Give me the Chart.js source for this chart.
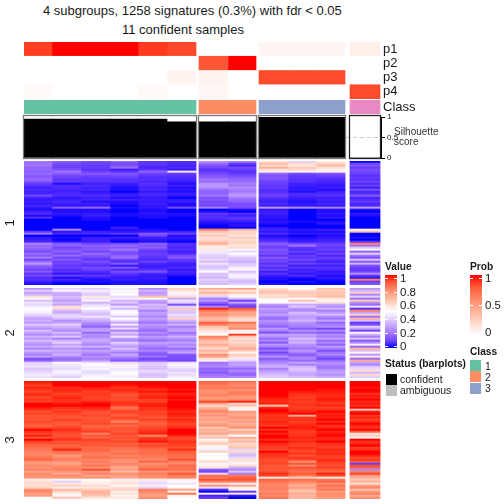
<!DOCTYPE html>
<html>
<head>
<meta charset="utf-8">
<script src="https://cdn.jsdelivr.net/npm/chart.js@4/dist/chart.umd.min.js"></script>
<style>
  html, body { margin: 0; padding: 0; background: #fff; width: 504px; height: 504px; overflow: hidden; }
  canvas { position: absolute; left: 0; }
  .t { position: absolute; font-family: "Liberation Sans", Arial, sans-serif; color: #1a1a1a; white-space: nowrap; line-height: 1; }
  .b { font-weight: bold; font-size: 10.2px; }
  .s { font-size: 10.5px; color: #222; }
  .box { position: absolute; width: 11px; height: 11px; }
</style>
</head>
<body>
<div class="t" style="left:43px;top:4px;font-size:13px">4 subgroups, 1258 signatures (0.3%) with fdr &lt; 0.05</div>
<div class="t" style="left:122px;top:23px;font-size:13px">11 confident samples</div>
<canvas id="annoChart"></canvas>
<canvas id="classChart"></canvas>
<canvas id="silChart"></canvas>
<canvas id="band1Chart"></canvas>
<canvas id="band2Chart"></canvas>
<canvas id="band3Chart"></canvas>
<canvas id="valueBar"></canvas>
<canvas id="probBar"></canvas>
<div class="t" style="left:394px;top:127px;font-size:10px;color:#333">Silhouette</div>
<div class="t" style="left:394px;top:137px;font-size:10px;color:#333">score</div>
<div class="t b" style="left:385px;top:262px">Value</div>
<div class="t b" style="left:470px;top:262px">Prob</div>
<div class="t b" style="left:470px;top:347px">Class</div>
<div class="t b" style="left:385px;top:359px">Status (barplots)</div>
<div class="box" style="left:470px;top:360px;background:#66C2A5"></div>
<div class="box" style="left:470px;top:371px;background:#FC8D62"></div>
<div class="box" style="left:470px;top:383px;background:#8DA0CB"></div>
<div class="t s" style="left:485px;top:361px">1</div>
<div class="t s" style="left:485px;top:372px">2</div>
<div class="t s" style="left:485px;top:383px">3</div>
<div class="box" style="left:386px;top:374px;background:#000"></div>
<div class="box" style="left:386px;top:385px;background:#bebebe"></div>
<div class="t s" style="left:400px;top:374px">confident</div>
<div class="t s" style="left:400px;top:385px">ambiguous</div>

<script>
// annotation rows, one value per sample (0-100)
const p1 = [90,100,100,100,91,87, 0,0, 5,5,5, 8];
const p2 = [0,0,0,0,0,0, 82,100, 0,0,0, 0];
const p3 = [0,0,0,0,0,6, 6,0, 86,86,86, 0];
const p4 = [3,0,0,0,3,0, 4,0, 0,0,0, 86];
const annoLabels = ["p1", "p2", "p3", "p4"];
const classes = [0,0,0,0,0,0, 1,1, 2,2,2, 3];
const classColors = ["#66C2A5", "#FC8D62", "#8DA0CB", "#E78AC3"];
const silhouette = [0.95,0.95,0.95,0.95,0.95,0.88, 0.88,0.88, 0.99,0.99,0.99, 0];

// heatmap rows, one value per sample (0-100), read top to bottom
const band1 = [
[20,15,11,16,7,5, 26,22, 58,40,55, 0],
[19,11,9,10,7,5, 18,8, 68,60,62, 10],
[20,10,8,13,6,4, 12,4, 60,56,68, 13],
[16,9,8,18,4,5, 10,11, 70,64,58, 8],
[17,12,6,3,7,3, 6,8, 58,60,54, 12],
[15,20,9,7,16,46, 8,6, 55,52,53, 10],
[18,15,14,13,9,8, 11,8, 17,11,13, 9],
[14,10,10,11,7,6, 13,11, 12,8,9, 6],
[15,9,7,8,5,5, 16,14, 14,7,7, 8],
[18,7,7,6,6,4, 20,17, 12,6,5, 6],
[13,8,6,6,4,3, 18,18, 9,6,4, 9],
[8,1,3,3,6,1, 26,22, 9,3,3, 5],
[6,5,5,2,5,3, 28,20, 7,3,2, 9],
[3,5,3,1,3,1, 26,26, 8,2,3, 3],
[5,4,4,1,5,2, 18,22, 6,2,1, 12],
[3,3,2,0,2,1, 16,20, 5,1,3, 4],
[4,5,3,2,4,3, 16,26, 8,5,5, 6],
[11,5,5,3,4,2, 20,28, 10,5,6, 14],
[4,2,3,1,2,0, 12,22, 6,3,3, 4],
[2,3,4,3,3,2, 14,18, 4,2,4, 5],
[3,4,1,1,2,3, 11,16, 3,1,2, 8],
[2,3,3,1,3,1, 12,11, 5,2,4, 4],
[4,2,2,0,2,1, 10,12, 3,2,2, 5],
[2,15,17,1,2,12, 22,11, 27,25,23, 28],
[1,1,1,0,1,0, 0,1, 2,0,1, 1],
[3,1,1,0,1,0, 1,0, 3,0,1, 0],
[5,2,2,1,2,1, 7,5, 3,0,2, 2],
[1,1,3,1,1,1, 5,3, 2,0,1, 1],
[6,0,1,0,1,0, 6,7, 2,0,2, 0],
[0,0,1,0,0,0, 4,5, 1,0,0, 0],
[0,0,0,0,0,0, 2,3, 2,1,1, 0],
[0,0,0,0,0,0, 1,1, 1,0,2, 0],
[0,0,0,0,0,0, 0,2, 0,0,0, 0],
[0,0,0,3,0,0, 0,0, 2,0,0, 0],
[0,24,0,1,1,0, 82,70, 4,2,3, 48],
[7,2,3,2,2,3, 66,60, 2,1,1, 66],
[20,4,5,7,14,9, 60,62, 5,2,2, 0],
[0,0,0,0,10,1, 64,56, 1,0,1, 0],
[2,1,3,3,3,2, 58,64, 2,1,2, 1],
[3,0,3,1,2,1, 60,58, 4,2,3, 0],
[4,2,3,0,1,0, 64,62, 7,3,4, 6],
[24,15,10,11,16,5, 72,60, 15,11,9, 82],
[17,16,16,18,13,6, 58,56, 11,20,10, 20],
[18,10,13,14,15,4, 54,60, 9,7,7, 38],
[15,13,15,20,10,6, 56,48, 13,5,9, 52],
[11,16,10,13,7,3, 46,42, 10,9,5, 16],
[18,11,18,11,9,5, 44,50, 12,4,10, 40],
[14,18,13,16,8,11, 40,44, 7,8,4, 20],
[22,10,10,19,6,14, 38,38, 14,6,9, 12],
[10,14,7,9,5,7, 42,36, 9,11,6, 38],
[18,9,12,5,9,6, 36,32, 11,5,3, 14],
[28,10,8,14,4,3, 44,38, 6,9,7, 34],
[16,7,6,2,3,3, 38,40, 10,3,3, 12],
[13,9,11,13,3,5, 36,46, 5,7,6, 9],
[9,5,9,5,6,2, 42,52, 9,3,5, 7],
[15,6,5,11,13,4, 50,36, 3,4,2, 10],
[7,2,3,7,4,3, 36,44, 6,2,3, 26],
[11,9,7,4,2,1, 38,48, 3,5,1, 7],
[5,1,3,2,3,0, 34,46, 1,1,2, 2],
[6,4,1,3,2,0, 40,38, 1,0,1, 84],
[3,1,1,1,1,0, 38,34, 0,1,0, 9],
[1,0,0,1,1,0, 36,40, 1,0,0, 13]
];
const band2 = [
[26,42,40,46,24,62, 72,76, 58,50,66, 28],
[40,48,46,52,34,58, 60,56, 64,60,62, 34],
[30,34,42,48,28,52, 70,66, 66,64,66, 62],
[34,30,38,50,30,46, 60,54, 60,62,64, 24],
[58,36,56,42,66,60, 40,48, 60,64,68, 40],
[48,34,44,46,52,32, 22,36, 54,50,56, 20],
[36,28,48,34,30,44, 28,10, 50,66,52, 64],
[44,36,34,38,26,40, 16,30, 52,46,58, 26],
[42,30,42,28,36,12, 8,14, 28,32,30, 18],
[46,58,46,44,32,40, 24,8, 22,38,26, 44],
[50,60,50,34,34,64, 98,90, 30,26,34, 6],
[48,34,42,48,22,38, 84,80, 26,24,22, 82],
[46,32,38,50,30,36, 76,72, 24,36,28, 30],
[42,40,36,46,28,44, 80,74, 30,32,36, 62],
[36,42,44,38,24,40, 72,66, 22,28,24, 20],
[30,36,36,50,30,62, 68,60, 18,30,20, 70],
[34,26,32,42,26,34, 70,58, 26,34,30, 36],
[28,30,26,30,20,26, 88,84, 24,26,18, 8],
[38,40,22,46,28,34, 84,76, 20,24,22, 12],
[32,34,16,30,26,22, 66,74, 16,22,26, 40],
[26,30,28,42,22,28, 62,80, 28,14,10, 30],
[36,24,30,22,18,30, 58,54, 22,26,24, 10],
[30,36,18,38,26,20, 54,48, 12,18,14, 48],
[24,28,26,30,20,24, 50,94, 30,30,26, 34],
[34,38,24,44,28,34, 82,64, 26,28,22, 22],
[28,22,30,28,24,26, 76,58, 18,36,30, 38],
[36,34,32,24,18,22, 68,62, 24,30,18, 14],
[30,40,28,40,30,30, 64,60, 14,34,24, 26],
[26,30,24,34,26,24, 72,64, 28,26,16, 46],
[32,36,34,28,22,28, 66,66, 22,24,28, 18],
[24,26,22,36,18,18, 60,72, 12,20,22, 70],
[34,32,30,30,24,26, 70,64, 20,28,12, 36],
[28,28,26,22,16,30, 62,52, 10,22,20, 52],
[22,34,20,32,14,14, 78,64, 18,14,24, 28],
[30,24,26,26,20,12, 74,60, 26,20,16, 56],
[12,18,22,18,10,12, 58,46, 14,24,10, 18],
[16,20,28,14,14,10, 54,40, 20,18,18, 72],
[40,52,44,42,38,44, 20,28, 24,30,26, 30],
[42,46,50,54,40,48, 22,30, 30,22,24, 24],
[44,44,46,48,38,46, 24,26, 34,34,20, 38],
[38,42,48,44,36,42, 16,18, 22,38,22, 42],
[40,46,44,46,42,38, 18,24, 28,36,28, 58],
[42,48,42,50,40,44, 14,20, 32,32,30, 34],
[46,44,46,52,36,42, 20,16, 36,30,26, 60],
[44,40,48,46,38,46, 22,24, 38,36,32, 40]
];
const band3 = [
[99,100,100,100,100,100, 88,86, 100,100,100, 100],
[97,100,100,100,100,100, 86,82, 100,100,100, 100],
[95,100,100,99,100,100, 82,80, 100,100,100, 100],
[98,97,99,96,99,100, 84,84, 100,100,100, 99],
[96,98,97,98,97,99, 80,78, 100,100,99, 100],
[94,97,94,96,99,100, 78,82, 100,99,99, 100],
[97,94,96,93,96,98, 80,84, 100,97,98, 96],
[96,96,95,91,97,99, 82,78, 100,96,97, 99],
[93,98,94,94,98,100, 76,76, 99,95,98, 98],
[96,97,95,92,95,99, 78,80, 98,96,99, 100],
[94,96,98,96,94,100, 94,98, 97,95,97, 97],
[100,99,100,97,98,100, 74,62, 98,96,96, 99],
[100,100,100,94,99,100, 60,66, 66,96,98, 96],
[99,97,98,84,96,100, 68,54, 97,95,94, 100],
[96,94,96,90,97,99, 76,48, 100,96,97, 64],
[92,96,92,95,93,97, 82,76, 100,98,100, 98],
[94,94,91,92,95,99, 74,72, 98,100,98, 100],
[91,92,94,89,93,98, 78,74, 96,72,99, 96],
[92,91,90,94,91,95, 72,78, 97,96,98, 98],
[90,95,92,91,95,98, 76,72, 96,97,100, 94],
[94,92,91,80,90,96, 70,76, 98,95,97, 97],
[91,90,94,91,89,94, 74,70, 97,96,100, 100],
[88,91,88,87,91,95, 78,74, 95,98,96, 98],
[92,94,89,91,94,97, 64,78, 100,99,98, 96],
[100,97,92,92,95,100, 72,62, 96,97,100, 100],
[97,95,95,90,97,100, 68,72, 100,95,98, 90],
[94,92,82,94,98,100, 74,68, 98,96,99, 58],
[98,91,91,90,80,98, 62,50, 100,96,100, 62],
[91,94,88,92,95,93, 66,72, 100,98,97, 54],
[100,97,95,90,97,94, 52,64, 97,96,98, 100],
[95,91,92,94,99,97, 58,68, 100,98,100, 96],
[91,92,90,88,91,95, 64,60, 98,95,97, 98],
[88,87,91,91,94,94, 54,62, 96,94,96, 100],
[86,90,87,86,90,91, 48,66, 95,97,95, 95],
[84,98,88,84,87,97, 46,42, 94,95,98, 97],
[82,86,86,83,86,89, 62,60, 100,93,96, 100],
[80,83,82,86,87,88, 50,38, 97,96,98, 100],
[82,76,84,81,84,87, 52,36, 96,92,95, 98],
[85,80,86,84,83,85, 50,42, 95,96,94, 93],
[88,84,80,79,80,93, 52,58, 93,94,97, 96],
[78,77,83,76,88,82, 60,56, 92,78,96, 90],
[76,74,80,82,78,80, 48,48, 94,91,94, 8],
[80,78,84,78,81,88, 54,60, 90,80,92, 92],
[77,81,78,72,84,84, 58,32, 92,92,95, 88],
[82,82,92,75,88,86, 14,24, 90,88,90, 24],
[74,77,77,68,77,79, 10,38, 92,86,88, 82],
[80,72,81,80,83,90, 42,22, 97,90,98, 94],
[78,80,74,75,80,83, 86,84, 94,84,92, 76],
[76,76,78,73,78,80, 84,88, 56,62,56, 70],
[54,52,50,47,54,53, 92,92, 88,86,84, 64],
[58,40,54,55,44,48, 82,82, 85,82,88, 70],
[60,56,54,58,42,44, 58,46, 82,76,78, 58],
[58,62,60,52,54,50, 76,72, 80,70,86, 76],
[62,54,56,58,40,52, 42,54, 82,76,80, 80],
[78,68,64,62,82,74, 6,52, 82,68,84, 66],
[80,60,70,54,80,52, 0,8, 78,66,76, 76],
[74,54,68,58,76,86, 54,56, 84,72,80, 82],
[76,52,66,52,74,54, 4,2, 80,68,78, 72],
[50,64,56,56,78,50, 8,0, 84,70,76, 78]
];

// layout of the sample columns, in pixels from the left of the heatmap
const colEdges = [0,28,57,86,114,143,172, 175,204,232, 235,264,292,321, 326,356];
const gapEdges = [6, 9, 13];
const heatLeft = 24, heatRight = 123, heatWidth = 357;

Chart.defaults.font.family = '"Liberation Sans", Arial, sans-serif';
Chart.defaults.color = "#1a1a1a";
Chart.defaults.animation = false;

// colorRamp2 style interpolation in Lab
function rgbToLab(c) {
  const f = c.map(v => { v /= 255; return v > 0.04045 ? Math.pow((v + 0.055) / 1.055, 2.4) : v / 12.92; });
  const x = (f[0]*0.4124 + f[1]*0.3576 + f[2]*0.1805) / 0.95047;
  const y = f[0]*0.2126 + f[1]*0.7152 + f[2]*0.0722;
  const z = (f[0]*0.0193 + f[1]*0.1192 + f[2]*0.9505) / 1.08883;
  const g = t => t > 0.008856 ? Math.cbrt(t) : 7.787*t + 16/116;
  return [116*g(y) - 16, 500*(g(x) - g(y)), 200*(g(y) - g(z))];
}
function labToCss(l) {
  const fy = (l[0] + 16) / 116, fx = l[1]/500 + fy, fz = fy - l[2]/200;
  const g = t => t*t*t > 0.008856 ? t*t*t : (t - 16/116) / 7.787;
  const x = g(fx)*0.95047, y = g(fy), z = g(fz)*1.08883;
  const lin = [x*3.2406 - y*1.5372 - z*0.4986, -x*0.9689 + y*1.8758 + z*0.0415, x*0.0557 - y*0.204 + z*1.057];
  const out = lin.map(v => {
    v = Math.max(0, Math.min(1, v));
    v = v > 0.0031308 ? 1.055*Math.pow(v, 1/2.4) - 0.055 : 12.92*v;
    return Math.round(v*255);
  });
  return "rgb(" + out.join(",") + ")";
}
const labBlue = rgbToLab([0,0,255]), labWhite = rgbToLab([255,255,255]), labRed = rgbToLab([255,0,0]);
const mix = (a, b, t) => labToCss(a.map((v, i) => v + (b[i] - v)*t));
const valueColor = v => v < 0.5 ? mix(labBlue, labWhite, v/0.5) : mix(labWhite, labRed, (v - 0.5)/0.5);
const probColor = v => mix(labWhite, labRed, v);

function place(id, top, height) {
  const c = document.getElementById(id);
  c.width = 504; c.height = height;
  c.style.width = "504px"; c.style.height = height + "px"; c.style.top = top + "px";
  return c;
}
// keep the plot area exactly as tall as the canvas asks for
function noEndPadding(s) {
  s.paddingTop = 0;
  s.paddingBottom = 0;
}
function columnDatasets(rows, colorOf) {
  const out = [];
  let e = 0;
  for (let c = 0; c < 12; c++) {
    if (gapEdges.includes(e)) e++;
    const a = colEdges[e], b = colEdges[e + 1];
    out.push({
      data: rows.map(() => [a, b]),
      backgroundColor: rows.map(r => colorOf(r[c])),
      borderWidth: 0,
      barPercentage: 1,
      categoryPercentage: 1,
      grouped: false
    });
    e++;
  }
  return out;
}
function heatChart(id, top, height, rows, labels, colorOf, opts) {
  opts = opts || {};
  const yScale = {
    position: opts.rightLabels ? "right" : "left",
    grid: { display: false, drawTicks: false, tickLength: 0 },
    border: { display: false },
    ticks: opts.rightLabels
      ? { display: true, padding: 2, autoSkip: false, font: { size: 13 }, color: "#1a1a1a" }
      : { display: false },
    afterFit: s => {
      s.width = opts.rightLabels ? heatRight : heatLeft;
      noEndPadding(s);
    },
    title: opts.bandTitle
      ? { display: true, text: opts.bandTitle, font: { size: 13 }, color: "#1a1a1a", padding: { top: 3, bottom: 0 } }
      : { display: false }
  };
  return new Chart(place(id, top, height), {
    type: "bar",
    data: { labels: labels, datasets: columnDatasets(rows, colorOf) },
    options: {
      indexAxis: "y",
      responsive: false,
      events: [],
      layout: { padding: { left: opts.rightLabels ? heatLeft : 0, right: opts.rightLabels ? 0 : heatRight } },
      plugins: { legend: { display: false }, tooltip: { enabled: false } },
      scales: {
        x: { type: "linear", display: false, min: 0, max: heatWidth },
        y: yScale
      }
    }
  });
}

// top annotation: p1-p4
heatChart("annoChart", 42, 57, [p1, p2, p3, p4], annoLabels, v => probColor(v/100), { rightLabels: true });
// class row
heatChart("classChart", 100, 14, [classes], ["Class"], v => classColors[v], { rightLabels: true });

// silhouette barplot
const silFrames = [[0,6,"#777"],[7,9,"#777"],[10,13,"#777"],[14,15,"#222"]];
const silFramePlugin = {
  id: "silFrame",
  afterDatasetsDraw(chart) {
    const { ctx, scales } = chart;
    const yt = scales.y.getPixelForValue(1) - 1.5, yb = scales.y.getPixelForValue(0) + 0.5;
    ctx.save();
    ctx.lineWidth = 1.3;
    silFrames.forEach(f => {
      const xa = scales.x.getPixelForValue(colEdges[f[0]]) - 0.5;
      const xb = scales.x.getPixelForValue(colEdges[f[1]]) + 0.5;
      ctx.strokeStyle = f[2];
      ctx.strokeRect(xa, yt, xb - xa, yb - yt);
    });
    ctx.restore();
  }
};
const silCentres = [];
colEdges.forEach((e, i) => {
  if (i < colEdges.length - 1 && !gapEdges.includes(i)) silCentres.push((e + colEdges[i + 1]) / 2);
});
new Chart(place("silChart", 108, 56), {
  type: "bar",
  data: {
    datasets: [
      {
        type: "line",
        data: [{ x: 0, y: 0.5 }, { x: heatWidth, y: 0.5 }],
        borderColor: "#cfcfcf",
        borderWidth: 1,
        borderDash: [4, 3],
        pointRadius: 0,
        order: 2
      },
      {
        data: silhouette.map((v, i) => ({ x: silCentres[i], y: v })),
        backgroundColor: "#000",
        borderWidth: 0,
        barThickness: 29,
        order: 1
      }
    ]
  },
  options: {
    responsive: false,
    events: [],
    layout: { padding: { left: heatLeft, top: 9, bottom: 6 } },
    plugins: { legend: { display: false }, tooltip: { enabled: false } },
    scales: {
      x: { type: "linear", display: false, min: 0, max: heatWidth, offset: false },
      y: {
        position: "right",
        min: 0,
        max: 1,
        afterFit: s => { s.width = heatRight; noEndPadding(s); },
        afterBuildTicks: s => { s.ticks = [0, 0.5, 1].map(v => ({ value: v })); },
        grid: { drawOnChartArea: false, drawTicks: true, tickLength: 4, color: "#000" },
        border: { display: true, color: "#000" },
        ticks: { padding: 2, font: { size: 8 }, color: "#1a1a1a", callback: v => String(v) }
      }
    }
  },
  plugins: [silFramePlugin]
});

// main heatmap, split in three bands
const valueOf = v => valueColor(v/100);
heatChart("band1Chart", 161, band1.length*2, band1, band1.map((r, i) => i), valueOf, { bandTitle: "1" });
heatChart("band2Chart", 288, band2.length*2, band2, band2.map((r, i) => i), valueOf, { bandTitle: "2" });
heatChart("band3Chart", 381, band3.length*2, band3, band3.map((r, i) => i), valueOf, { bandTitle: "3" });

// colour bars
const valueTicks = [0, 0.2, 0.4, 0.6, 0.8, 1];
const probTicks = [0, 0.5, 1];
function colourBar(id, left, top, height, ticks, low, high, stops) {
  const c = place(id, top - 6, height + 12);
  c.width = 60; c.style.width = "60px"; c.style.left = left + "px";
  new Chart(c, {
    type: "bar",
    data: {
      labels: ["bar"],
      datasets: [{
        data: [[low, high]],
        backgroundColor: ctx => {
          const a = ctx.chart.chartArea;
          if (!a) return "#fff";
          const g = ctx.chart.ctx.createLinearGradient(0, a.bottom, 0, a.top);
          stops.forEach((col, i) => g.addColorStop(i / (stops.length - 1), col));
          return g;
        },
        borderWidth: 0,
        barPercentage: 1,
        categoryPercentage: 1
      }]
    },
    options: {
      responsive: false,
      events: [],
      layout: { padding: { top: 6, bottom: 6 } },
      plugins: { legend: { display: false }, tooltip: { enabled: false } },
      scales: {
        x: { display: false },
        y: {
          position: "right",
          min: low,
          max: high,
          afterFit: s => { s.width = 48; noEndPadding(s); },
          afterBuildTicks: s => { s.ticks = ticks.map(v => ({ value: v })); },
          grid: { z: 1, color: "#fff", lineWidth: 1, drawTicks: false },
          border: { display: false, dash: [3, 6, 3] },
          ticks: { padding: 3, autoSkip: false, font: { size: 11.5 }, color: "#1a1a1a", callback: v => String(v) }
        }
      }
    }
  });
}
const valueStops = [0, .1, .2, .3, .4, .5, .6, .7, .8, .9, 1].map(valueColor);
const probStops = [0, .2, .4, .6, .8, 1].map(probColor);
colourBar("valueBar", 385, 275, 73, valueTicks, -0.015, 1.0585, valueStops);
colourBar("probBar", 470, 275, 60, probTicks, -0.035, 1.07, probStops);
</script>
</body>
</html>
